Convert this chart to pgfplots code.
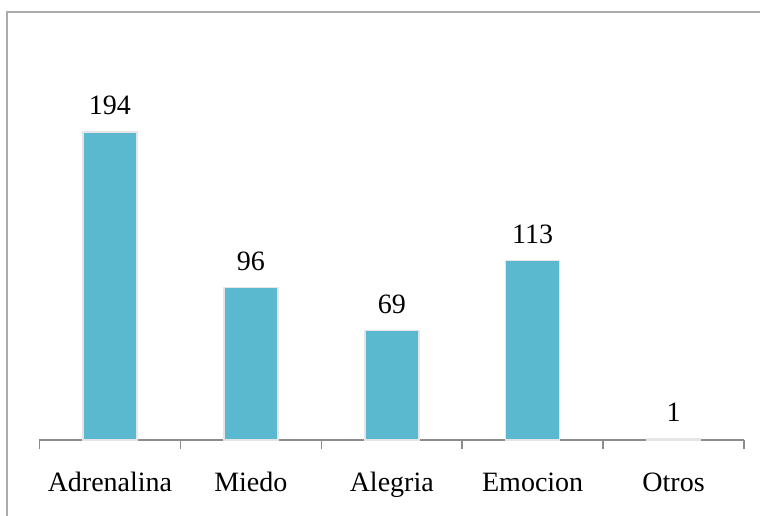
\documentclass[border=0pt]{standalone}
\usepackage{pgfplots}
\pgfplotsset{compat=1.18}
\usepackage{fontspec}
\setmainfont{Liberation Serif}
\definecolor{barblue}{HTML}{5AB8CF}
\definecolor{framegray}{HTML}{ABABAB}
\definecolor{axisgray}{HTML}{8C8C8C}
\begin{document}
\begin{tikzpicture}[x=1pt,y=1pt]
\useasboundingbox (0,0) rectangle (380,257.5);
\draw[framegray, line width=0.8pt] (3.6,-1) -- (3.6,251.6) -- (381,251.6);
\begin{axis}[
  at={(19.75pt,37.5pt)}, anchor=south west,
  scale only axis,
  width=352.25pt, height=214.4pt,
  xmin=-0.5, xmax=4.5, ymin=0, ymax=270,
  axis x line*=bottom, axis y line=none,
  x axis line style={axisgray, line width=0.8pt, -},
  xtick={0,1,2,3,4},
  xticklabels={Adrenalina,Miedo,Alegria,Emocion,Otros},
  major tick length=0pt,
  minor xtick={-0.5,0.5,1.5,2.5,3.5,4.5},
  minor tick length=4.5pt,
  tick align=outside,
  minor tick style={axisgray, line width=0.8pt},
  xticklabel style={font=\fontsize{14}{16}\selectfont, anchor=base, yshift=-25.8pt, inner sep=0pt},
  /pgf/number format/assume math mode=true,
  ybar, bar width=27pt,
  nodes near coords,
  every node near coord/.append style={font=\fontsize{14}{16}\selectfont, anchor=south, inner sep=0pt, yshift=8pt},
  clip=false,
]
\addplot[fill=barblue, draw=black!10, line width=0.8pt] coordinates {(0,194) (1,96) (2,69) (3,113) (4,1)};
\end{axis}
\end{tikzpicture}
\end{document}
